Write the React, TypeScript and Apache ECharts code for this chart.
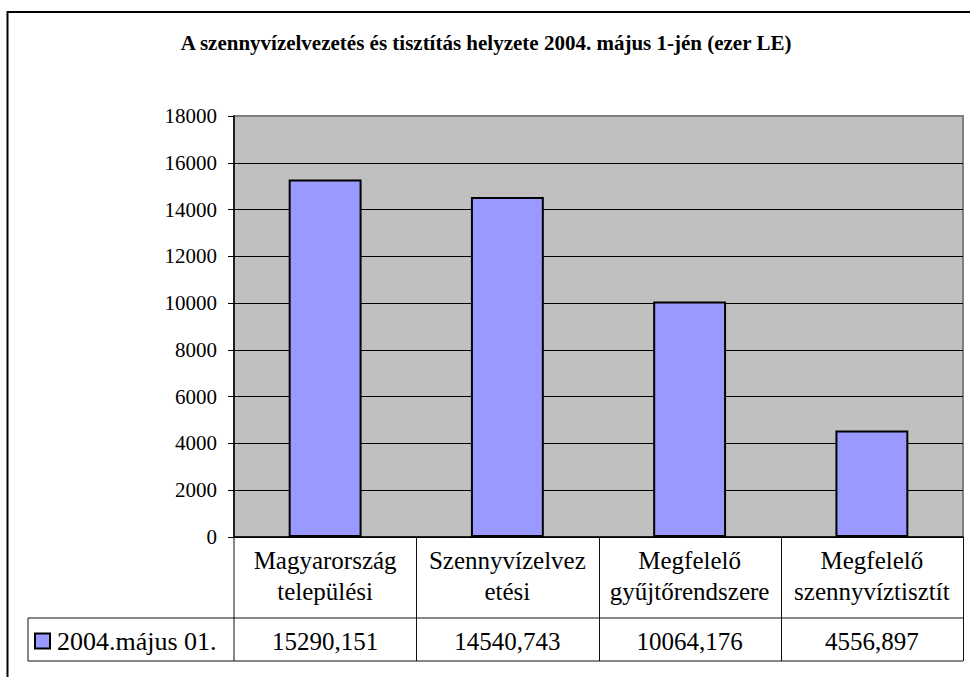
import React, { useEffect, useRef } from "react";
import * as echarts from "echarts";

const title = "A szennyvízelvezetés és tisztítás helyzete 2004. május 1-jén (ezer LE)";
const categories = [
  "Magyarország\ntelepülési",
  "Szennyvízelvez\netési",
  "Megfelelő\ngyűjtőrendszere",
  "Megfelelő\nszennyvíztisztít",
];
const seriesName = "2004.május 01.";
const values = [15290.151, 14540.743, 10064.176, 4556.897];
const yTicks = { min: 0, max: 18000, interval: 2000 };

const W = 970;
const H = 677;
const GL = 234;
const GR = 963;
const GT = 116;
const GB = 537;
const ROW = 618;
const TB = 661;
const LEGL = 28;
const FONT = "Times New Roman, Liberation Serif, DejaVu Serif, serif";

const fmt = (v: number) => v.toFixed(3).replace(".", ",");

export default function App() {
  const ref = useRef<HTMLDivElement>(null);
  useEffect(() => {
    if (!ref.current) return;
    const chart = echarts.init(ref.current, null, { renderer: "svg" });
    const colW = (GR - GL) / categories.length;
    const lineStyle = { stroke: "#111", lineWidth: 1 };
    const nLines = Math.round((yTicks.max - yTicks.min) / yTicks.interval) + 1;
    const splitColors = Array.from({ length: nLines }, (_, i) =>
      i === nLines - 1 ? "#808080" : "#000"
    );
    const graphics: any[] = [
      {
        type: "rect",
        shape: { x: 7.5, y: 12, width: 1000, height: 700 },
        style: { fill: "none", stroke: "#000", lineWidth: 2 },
        silent: true,
      },
      {
        type: "text",
        x: W / 2 + 1,
        y: 43,
        style: {
          text: title,
          fontFamily: FONT,
          fontWeight: "bold",
          fontSize: 21,
          fill: "#000",
          align: "center",
          verticalAlign: "middle",
        },
      },
      { type: "line", shape: { x1: GL, y1: GB, x2: GL, y2: TB }, style: lineStyle },
      { type: "line", shape: { x1: LEGL, y1: ROW, x2: GR, y2: ROW }, style: lineStyle },
      { type: "line", shape: { x1: LEGL, y1: TB, x2: GR, y2: TB }, style: lineStyle },
      { type: "line", shape: { x1: LEGL, y1: ROW, x2: LEGL, y2: TB }, style: lineStyle },
    ];
    for (let i = 1; i <= categories.length; i++) {
      const x = Math.round(GL + colW * i) + 0.5;
      graphics.push({ type: "line", shape: { x1: x, y1: GB, x2: x, y2: TB }, style: lineStyle });
    }
    chart.setOption({
      animation: false,
      backgroundColor: "#fff",
      textStyle: { fontFamily: FONT, color: "#000" },
      grid: {
        left: GL,
        right: W - GR,
        top: GT,
        bottom: H - GB,
        show: true,
        backgroundColor: "#C0C0C0",
        borderColor: "#808080",
        borderWidth: 2,
      },
      legend: {
        show: true,
        left: 29,
        top: 623,
        itemWidth: 15,
        itemHeight: 15,
        itemGap: 4,
        icon: "rect",
        data: [seriesName],
        textStyle: { fontFamily: FONT, fontSize: 26, color: "#000", padding: [0, 0, 0, 2] },
        itemStyle: { borderColor: "#000", borderWidth: 2 },
      },
      xAxis: [
        {
          type: "category",
          data: categories,
          position: "bottom",
          axisLine: { show: true, lineStyle: { color: "#000", width: 1.5 } },
          axisTick: { show: false },
          axisLabel: {
            fontFamily: FONT,
            fontSize: 25,
            color: "#000",
            lineHeight: 31,
            margin: 8,
            interval: 0,
          },
        },
        {
          type: "category",
          data: values.map(fmt),
          position: "bottom",
          offset: 0,
          axisLine: { show: false },
          axisTick: { show: false },
          axisLabel: {
            fontFamily: FONT,
            fontSize: 25,
            color: "#000",
            lineHeight: 31,
            margin: 89,
            interval: 0,
          },
        },
      ],
      yAxis: {
        type: "value",
        min: yTicks.min,
        max: yTicks.max,
        interval: yTicks.interval,
        axisLine: { show: true, lineStyle: { color: "#000", width: 1.5 } },
        axisTick: { show: true, inside: false, length: 6, lineStyle: { color: "#000" } },
        splitLine: { show: true, lineStyle: { color: splitColors, width: 1 } },
        axisLabel: {
          fontFamily: FONT,
          fontSize: 21,
          color: "#000",
          margin: 17,
          formatter: (v: number) => String(v),
        },
      },
      series: [
        {
          name: seriesName,
          type: "bar",
          data: values,
          barWidth: "40%",
          itemStyle: { color: "#9999FF", borderColor: "#000", borderWidth: 2 },
        },
      ],
      graphic: graphics,
    });
    return () => chart.dispose();
  }, []);
  return (
    <div
      ref={ref}
      style={{ position: "absolute", left: 0, top: 0, width: W, height: H }}
    />
  );
}
